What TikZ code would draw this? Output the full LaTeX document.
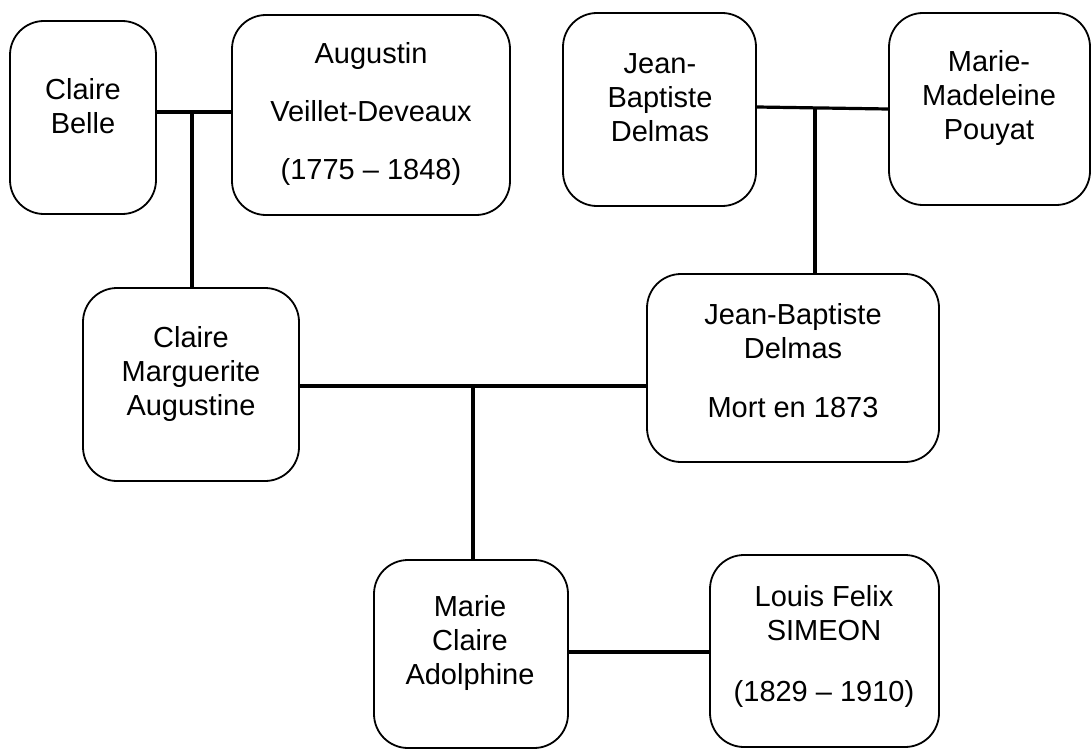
\documentclass[tikz,border=0pt]{standalone}
\usepackage{fontspec}
\setmainfont{Liberation Sans}
\usepackage{tikz}
\usetikzlibrary{calc}

\begin{document}
\begin{tikzpicture}[
	x=1pt, y=-1pt,
	person/.style={draw, line width=1.8pt, rounded corners=34pt},
	nametext/.style={align=center, inner sep=0pt, font=\fontsize{29}{34}\selectfont},
	link/.style={line width=3.2pt}
	]
	
	\useasboundingbox (0,0) rectangle (1091,749);
	
	% Boxes
	\node [person, minimum width=146, minimum height=193] (belle) at (83,117.5) {};
	\node [person, minimum width=278, minimum height=200] (augustin) at (371,115) {};
	\node [person, minimum width=193, minimum height=193] (jbtop) at (659.5,109.5) {};
	\node [person, minimum width=201, minimum height=192] (pouyat) at (989.5,109) {};
	\node [person, minimum width=216, minimum height=193] (cma) at (191,384.5) {};
	\node [person, minimum width=292, minimum height=188] (jbd) at (793,368) {};
	\node [person, minimum width=194, minimum height=188] (mca) at (471,654) {};
	\node [person, minimum width=229, minimum height=192] (lfs) at (824.5,651) {};
	
	% Names
	\node [nametext] (tBelle) at (83,106) {Claire\\Belle};
	\node [nametext] (tAugustin) at (371,114) {Augustin\\[24pt]Veillet-Deveaux\\[24pt](1775 -- 1848)};
	\node [nametext] (tJbtop) at (660,98) {Jean-\\Baptiste\\Delmas};
	\node [nametext] (tPouyat) at (989,98) {Marie-\\Madeleine\\Pouyat};
	\node [nametext] (tCma) at (191,374) {Claire\\Marguerite\\Augustine};
	\node [nametext] (tJbd) at (793,361) {Jean-Baptiste\\Delmas\\[25pt]Mort en 1873};
	\node [nametext] (tMca) at (470,643) {Marie\\Claire\\Adolphine};
	\node [nametext] (tLfs) at (824,646) {Louis Felix\\SIMEON\\[27pt](1829 -- 1910)};
	
	% Joins
	\coordinate (jA) at (192,112);
	\coordinate (jB) at (815,108);
	\coordinate (jC) at (473,386);
	\coordinate (jD) at (640,652);
	
	\draw [link] (jA -| belle.east) -- (jA -| augustin.west);
	\draw [link] (jA) -- (jA |- cma.north);
	
	\draw [link] ($(jbtop.east)+(0,-2.5)$) -- (pouyat.west);
	\draw [link] (jB) -- (jB |- jbd.north);
	
	\draw [link] (jC -| cma.east) -- (jC -| jbd.west);
	\draw [link] (jC) -- (jC |- mca.north);
	
	\draw [link] (jD -| mca.east) -- (jD -| lfs.west);
\end{tikzpicture}
\end{document}
